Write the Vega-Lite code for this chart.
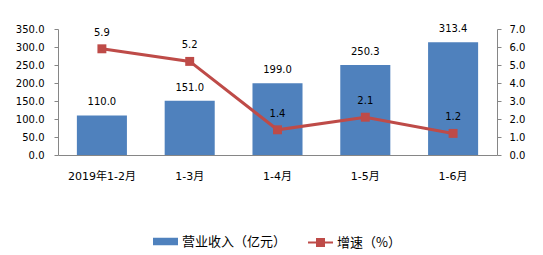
{
  "$schema": "https://vega.github.io/schema/vega-lite/v6.json",
  "width": 439,
  "height": 126,
  "autosize": {"type": "none"},
  "padding": {"left": 58, "top": 29, "right": 46, "bottom": 100},
  "background": "#ffffff",
  "config": {
    "view": {"stroke": null},
    "font": "DejaVu Sans",
    "axis": {"grid": false, "domainColor": "#868686", "tickColor": "#868686", "labelColor": "#000000", "labelFont": "DejaVu Sans, Noto Sans CJK SC", "labelFontSize": 10, "title": null, "labelOverlap": false, "labelFlush": false},
    "legend": {"labelFont": "Noto Sans CJK SC", "labelFontSize": 13, "labelColor": "#000000", "title": null, "padding": 0}
  },
  "data": {"values": [
    {"period": "2019年1-2月", "revenue": 110.0, "growth": 5.9},
    {"period": "1-3月", "revenue": 151.0, "growth": 5.2},
    {"period": "1-4月", "revenue": 199.0, "growth": 1.4},
    {"period": "1-5月", "revenue": 250.3, "growth": 2.1},
    {"period": "1-6月", "revenue": 313.4, "growth": 1.2}
  ]},
  "encoding": {
    "x": {"field": "period", "type": "nominal", "sort": null,
      "scale": {"paddingInner": 0.43, "paddingOuter": 0.215},
      "axis": {"labelAngle": 0, "ticks": false, "labelPadding": 15, "labelFontSize": 11, "domainColor": "#868686"}}
  },
  "layer": [
    {
      "layer": [
        {
          "mark": {"type": "bar"},
          "encoding": {
            "y": {"field": "revenue", "type": "quantitative", "scale": {"domain": [0, 350], "nice": false},
              "axis": {"values": [0, 50, 100, 150, 200, 250, 300, 350], "tickCount": 8, "labelOverlap": false, "format": ".1f", "tickSize": 4, "labelPadding": 10}},
            "fill": {"datum": "营业收入（亿元）", "type": "nominal",
              "scale": {"range": ["#4F81BD"]},
              "legend": {"orient": "none", "legendX": 95, "legendY": 200, "symbolType": "M-1,-0.3H1V0.3H-1Z", "symbolSize": 625, "symbolStrokeWidth": 0, "labelOffset": 4}}
          }
        },
        {
          "mark": {"type": "text", "dy": -13, "font": "DejaVu Sans", "fontSize": 10, "color": "#000000"},
          "encoding": {
            "y": {"field": "revenue", "type": "quantitative"},
            "text": {"field": "revenue", "type": "quantitative", "format": ".1f"}
          }
        }
      ]
    },
    {
      "layer": [
        {
          "mark": {"type": "line", "strokeWidth": 3},
          "encoding": {
            "y": {"field": "growth", "type": "quantitative", "scale": {"domain": [0, 7], "nice": false},
              "axis": {"orient": "right", "values": [0, 1, 2, 3, 4, 5, 6, 7], "tickCount": 8, "labelOverlap": false, "format": ".1f", "tickSize": 4, "labelPadding": 8}},
            "stroke": {"datum": "增速（%）", "type": "nominal",
              "scale": {"range": ["#BE4B48"]},
              "legend": {"orient": "none", "legendX": 249, "legendY": 200, "symbolType": "M-1,0H1M-0.28,-0.28H0.28V0.28H-0.28Z", "symbolSize": 625, "symbolStrokeWidth": 2, "symbolFillColor": "#BE4B48", "labelOffset": 3}}
          }
        },
        {
          "mark": {"type": "point", "shape": "square", "filled": true, "size": 80, "color": "#BE4B48", "opacity": 1},
          "encoding": {
            "y": {"field": "growth", "type": "quantitative"}
          }
        },
        {
          "mark": {"type": "text", "dy": -16, "font": "DejaVu Sans", "fontSize": 10, "color": "#000000"},
          "encoding": {
            "y": {"field": "growth", "type": "quantitative"},
            "text": {"field": "growth", "type": "quantitative", "format": ".1f"}
          }
        }
      ]
    }
  ],
  "resolve": {"scale": {"y": "independent", "fill": "independent", "stroke": "independent"}}
}
